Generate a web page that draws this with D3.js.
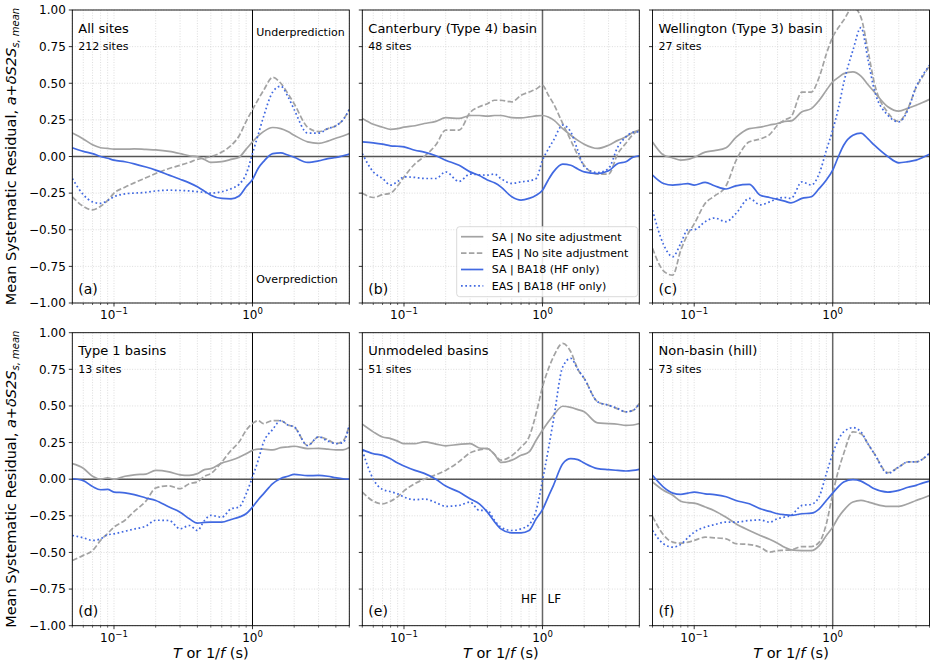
<!DOCTYPE html>
<html>
<head>
<meta charset="utf-8">
<script src="https://cdn.jsdelivr.net/npm/d3@7"></script>
<style>
  body { margin: 0; background: #fff; }
  svg { font-family: "DejaVu Sans", sans-serif; }
</style>
</head>
<body>
<svg id="chart" width="932" height="667"></svg>
<script>
// Oscillator period (s) at which every residual curve is sampled
const periods = [0.05, 0.06, 0.07, 0.08, 0.09, 0.1, 0.12, 0.14, 0.17, 0.2, 0.25, 0.3, 0.35, 0.4, 0.45, 0.5,
                 0.6, 0.7, 0.8, 0.9, 1.0, 1.1, 1.2, 1.4, 1.6, 1.8, 2.0, 2.5, 3.0, 3.5, 4.0, 4.5, 5.0];
const periodRange = [0.05, 5];
const residualRange = [-1, 1];
const residualTicks = [-1, -0.75, -0.5, -0.25, 0, 0.25, 0.5, 0.75, 1];

// (a) All sites
const allSA     = [0.16,0.12,0.08,0.06,0.055,0.05,0.05,0.052,0.048,0.045,0.035,0.02,0.005,-0.002,-0.02,-0.04,-0.035,-0.02,-0.005,0.05,0.1,0.14,0.17,0.198,0.19,0.17,0.145,0.1,0.09,0.105,0.125,0.14,0.157];
const allEAS    = [-0.275,-0.34,-0.365,-0.34,-0.3,-0.25,-0.21,-0.18,-0.145,-0.116,-0.082,-0.06,-0.04,-0.02,-0.01,0.0,0.03,0.075,0.14,0.24,0.32,0.39,0.45,0.54,0.5,0.43,0.36,0.2,0.17,0.19,0.21,0.25,0.32];
const allSABA   = [0.06,0.035,0.02,0.0,-0.012,-0.025,-0.036,-0.05,-0.072,-0.093,-0.127,-0.155,-0.18,-0.207,-0.237,-0.264,-0.286,-0.289,-0.27,-0.207,-0.157,-0.08,-0.035,0.02,0.025,0.01,-0.005,-0.04,-0.03,-0.015,-0.007,0.005,0.016];
const allEASBA  = [-0.15,-0.26,-0.31,-0.32,-0.3,-0.275,-0.255,-0.25,-0.245,-0.235,-0.23,-0.232,-0.235,-0.24,-0.245,-0.25,-0.24,-0.22,-0.19,-0.12,0.02,0.15,0.27,0.44,0.48,0.41,0.32,0.16,0.16,0.19,0.21,0.25,0.32];

// (b) Canterbury (Type 4) basin
const cantSA    = [0.26,0.22,0.2,0.185,0.19,0.2,0.21,0.225,0.24,0.265,0.26,0.28,0.28,0.275,0.28,0.28,0.266,0.264,0.27,0.277,0.28,0.27,0.25,0.19,0.145,0.11,0.084,0.055,0.077,0.11,0.134,0.165,0.18];
const cantEAS   = [-0.25,-0.28,-0.26,-0.25,-0.2,-0.14,-0.05,0.0,0.08,0.18,0.18,0.3,0.34,0.36,0.384,0.384,0.373,0.418,0.44,0.46,0.486,0.42,0.36,0.225,0.11,0.01,-0.06,-0.12,-0.12,0.02,0.09,0.15,0.18];
const cantSABA  = [0.1,0.093,0.084,0.073,0.07,0.066,0.043,0.03,0.005,-0.025,-0.06,-0.105,-0.13,-0.16,-0.18,-0.207,-0.275,-0.298,-0.286,-0.264,-0.23,-0.16,-0.105,-0.052,-0.06,-0.085,-0.105,-0.116,-0.098,-0.048,-0.036,-0.005,0.005];
const cantEASBA = [0.02,-0.105,-0.15,-0.195,-0.17,-0.139,-0.143,-0.15,-0.15,-0.105,-0.17,-0.12,-0.125,-0.127,-0.12,-0.15,-0.184,-0.173,-0.166,-0.15,-0.025,0.05,0.11,0.214,0.168,0.04,-0.07,-0.11,-0.082,0.066,0.134,0.165,0.168];

// (c) Wellington (Type 3) basin
const wellSA    = [0.1,0.01,-0.01,-0.025,-0.02,-0.005,0.03,0.04,0.06,0.13,0.19,0.2,0.215,0.225,0.24,0.243,0.305,0.327,0.384,0.452,0.51,0.54,0.566,0.577,0.548,0.49,0.44,0.34,0.31,0.33,0.35,0.37,0.39];
const wellEAS   = [-0.627,-0.78,-0.81,-0.64,-0.53,-0.46,-0.32,-0.27,-0.2,-0.03,0.1,0.12,0.15,0.214,0.25,0.27,0.44,0.44,0.543,0.7,0.816,0.88,0.93,1.02,0.95,0.72,0.5,0.3,0.24,0.33,0.47,0.55,0.62];
const wellSABA  = [-0.127,-0.184,-0.195,-0.19,-0.185,-0.195,-0.177,-0.2,-0.222,-0.2,-0.19,-0.264,-0.28,-0.293,-0.305,-0.316,-0.286,-0.275,-0.218,-0.16,-0.093,0.0,0.077,0.145,0.16,0.12,0.077,0.0,-0.043,-0.035,-0.025,-0.005,0.016];
const wellEASBA = [-0.366,-0.6,-0.684,-0.593,-0.5,-0.5,-0.445,-0.42,-0.445,-0.39,-0.286,-0.33,-0.31,-0.286,-0.28,-0.286,-0.173,-0.195,-0.116,0.043,0.18,0.33,0.5,0.725,0.88,0.66,0.452,0.282,0.236,0.32,0.475,0.56,0.623];

// (d) Type 1 basins
const t1SA      = [0.106,0.075,0.02,0.0,0.01,0.0,0.02,0.03,0.035,0.06,0.05,0.03,0.026,0.038,0.065,0.072,0.11,0.129,0.15,0.174,0.197,0.205,0.205,0.2,0.215,0.22,0.225,0.209,0.21,0.205,0.2,0.2,0.216];
const t1EAS     = [-0.555,-0.52,-0.487,-0.418,-0.37,-0.327,-0.28,-0.22,-0.15,-0.06,-0.045,-0.065,-0.03,-0.019,0.02,0.038,0.117,0.197,0.254,0.334,0.38,0.4,0.38,0.4,0.4,0.37,0.357,0.23,0.289,0.27,0.243,0.26,0.368];
const t1SABA    = [0.003,-0.01,-0.05,-0.072,-0.07,-0.088,-0.093,-0.105,-0.128,-0.145,-0.19,-0.225,-0.27,-0.3,-0.295,-0.293,-0.293,-0.275,-0.259,-0.236,-0.19,-0.14,-0.1,-0.03,0.005,0.02,0.033,0.024,0.026,0.02,0.01,0.003,0.0];
const t1EASBA   = [-0.384,-0.4,-0.418,-0.407,-0.38,-0.373,-0.355,-0.34,-0.32,-0.28,-0.282,-0.339,-0.316,-0.35,-0.282,-0.247,-0.259,-0.202,-0.19,-0.1,0.015,0.13,0.25,0.34,0.4,0.37,0.357,0.23,0.289,0.26,0.243,0.25,0.368];

// (e) Unmodeled basins
const unmSA     = [0.375,0.323,0.288,0.277,0.26,0.243,0.243,0.255,0.24,0.228,0.238,0.243,0.213,0.209,0.17,0.115,0.13,0.163,0.186,0.266,0.334,0.39,0.437,0.498,0.49,0.475,0.46,0.384,0.38,0.375,0.368,0.37,0.38];
const unmEAS    = [-0.088,-0.15,-0.168,-0.15,-0.12,-0.08,-0.03,0.0,0.03,0.06,0.12,0.18,0.2,0.209,0.17,0.13,0.16,0.22,0.289,0.448,0.63,0.75,0.836,0.927,0.87,0.75,0.688,0.528,0.505,0.48,0.46,0.47,0.516];
const unmSABA   = [0.202,0.174,0.163,0.14,0.11,0.09,0.06,0.04,0.0,-0.047,-0.088,-0.134,-0.168,-0.225,-0.29,-0.339,-0.366,-0.366,-0.35,-0.27,-0.208,-0.12,-0.042,0.106,0.14,0.134,0.11,0.072,0.065,0.06,0.056,0.06,0.067];
const unmEASBA  = [0.197,0.0,-0.07,-0.085,-0.1,-0.122,-0.14,-0.135,-0.16,-0.185,-0.179,-0.156,-0.213,-0.213,-0.28,-0.327,-0.35,-0.339,-0.31,-0.213,-0.008,0.2,0.403,0.767,0.825,0.75,0.688,0.528,0.505,0.482,0.46,0.47,0.516];

// (f) Non-basin (hill)
const hillSA    = [-0.019,-0.076,-0.11,-0.15,-0.16,-0.163,-0.19,-0.215,-0.26,-0.304,-0.35,-0.384,-0.41,-0.437,-0.465,-0.482,-0.487,-0.487,-0.453,-0.384,-0.327,-0.26,-0.213,-0.156,-0.145,-0.155,-0.168,-0.186,-0.186,-0.168,-0.145,-0.128,-0.111];
const hillEAS   = [-0.254,-0.38,-0.43,-0.437,-0.43,-0.418,-0.396,-0.4,-0.407,-0.44,-0.446,-0.464,-0.498,-0.487,-0.485,-0.482,-0.46,-0.46,-0.43,-0.304,-0.1,0.06,0.174,0.323,0.31,0.24,0.174,0.045,0.083,0.118,0.118,0.14,0.179];
const hillSABA  = [0.026,-0.054,-0.095,-0.104,-0.095,-0.088,-0.1,-0.105,-0.12,-0.145,-0.168,-0.202,-0.22,-0.236,-0.243,-0.247,-0.236,-0.232,-0.202,-0.145,-0.095,-0.05,-0.019,-0.003,-0.013,-0.04,-0.065,-0.088,-0.076,-0.055,-0.042,-0.025,-0.013];
const hillEASBA = [-0.35,-0.441,-0.464,-0.445,-0.4,-0.362,-0.327,-0.31,-0.293,-0.293,-0.282,-0.278,-0.293,-0.27,-0.258,-0.247,-0.179,-0.172,-0.117,0.038,0.174,0.27,0.323,0.352,0.323,0.24,0.174,0.04,0.083,0.118,0.118,0.14,0.179];

const panelTitles = ["All sites", "Canterbury (Type 4) basin", "Wellington (Type 3) basin",
                     "Type 1 basins", "Unmodeled basins", "Non-basin (hill)"];
const siteCounts  = [212, 48, 27, 13, 51, 73];
const panelLetters = ["(a)", "(b)", "(c)", "(d)", "(e)", "(f)"];
const panelSeries = [
  [allSA, allEAS, allSABA, allEASBA],
  [cantSA, cantEAS, cantSABA, cantEASBA],
  [wellSA, wellEAS, wellSABA, wellEASBA],
  [t1SA, t1EAS, t1SABA, t1EASBA],
  [unmSA, unmEAS, unmSABA, unmEASBA],
  [hillSA, hillEAS, hillSABA, hillEASBA]
];
const seriesNames = ["SA | No site adjustment", "EAS | No site adjustment", "SA | BA18 (HF only)", "EAS | BA18 (HF only)"];

const GRAY = "#a3a3a3", BLUE = "#4169e1";
const seriesStyle = [
  { color: GRAY, dash: null },
  { color: GRAY, dash: "5.5,2.4" },
  { color: BLUE, dash: null },
  { color: BLUE, dash: "1.7,2.6" }
];
const LW = 1.7;

const svg = d3.select("#chart");
const W = 277, H = 293;
const colX = [72.3, 362.3, 652.5];
const rowY = [10, 332.7];

const x = d3.scaleLog().domain(periodRange).range([0, W]);
const y = d3.scaleLinear().domain(residualRange).range([H, 0]);
const xTicks = x.ticks();
const isMajor = t => Math.abs(Math.log10(t) - Math.round(Math.log10(t))) < 1e-6;
const fmtY = v => v.toFixed(2).replace("-", "\u2212");

const line = d3.line()
  .x(d => x(d[0]))
  .y(d => y(d[1]))
  .curve(d3.curveMonotoneX);

panelSeries.forEach((series, i) => {
  const col = i % 3, row = Math.floor(i / 3);
  const g = svg.append("g").attr("transform", `translate(${colX[col]},${rowY[row]})`);

  g.append("clipPath").attr("id", "clip" + i)
    .append("rect").attr("width", W).attr("height", H);

  // grid: every log tick on x, quarter steps on y
  const grid = g.append("g").attr("stroke", "#cfcfcf").attr("stroke-width", 0.7).attr("stroke-dasharray", "1,1.6");
  grid.selectAll(".gx").data(xTicks).join("line")
    .attr("x1", d => x(d)).attr("x2", d => x(d)).attr("y1", 0).attr("y2", H);
  grid.selectAll(".gy").data(residualTicks).join("line")
    .attr("x1", 0).attr("x2", W).attr("y1", d => y(d)).attr("y2", d => y(d));

  // zero residual and the HF/LF crossover period
  const refColor = col === 0 ? "#000" : "#666";
  const refWidth = col === 0 ? 1.0 : 1.5;
  g.append("line").attr("x1", 0).attr("x2", W).attr("y1", y(0)).attr("y2", y(0))
    .attr("stroke", "#555").attr("stroke-width", 1.4);
  g.append("line").attr("x1", x(1)).attr("x2", x(1)).attr("y1", 0).attr("y2", H)
    .attr("stroke", refColor).attr("stroke-width", refWidth);

  // residual curves
  const curves = g.append("g").attr("clip-path", `url(#clip${i})`);
  series.forEach((vals, k) => {
    const pts = periods.map((p, j) => [p, vals[j]]);
    curves.append("path").datum(pts)
      .attr("d", line)
      .attr("fill", "none")
      .attr("stroke", seriesStyle[k].color)
      .attr("stroke-width", LW)
      .attr("stroke-dasharray", seriesStyle[k].dash);
  });

  // frame
  g.append("rect").attr("width", W).attr("height", H)
    .attr("fill", "none").attr("stroke", "#000").attr("stroke-width", 0.9);

  // y ticks
  g.selectAll(".ty").data(residualTicks).join("line")
    .attr("x1", -3.5).attr("x2", 0).attr("y1", d => y(d)).attr("y2", d => y(d))
    .attr("stroke", "#000").attr("stroke-width", 0.8);
  if (col === 0) {
    g.selectAll(".ly").data(residualTicks).join("text")
      .attr("x", -6.5).attr("y", d => y(d) + 4.3)
      .attr("text-anchor", "end").attr("font-size", 12).attr("fill", "#000")
      .text(fmtY);
  }

  // x ticks
  g.selectAll(".tx").data(xTicks).join("line")
    .attr("x1", d => x(d)).attr("x2", d => x(d))
    .attr("y1", H).attr("y2", d => H + (isMajor(d) ? 3.5 : 2))
    .attr("stroke", "#000").attr("stroke-width", d => isMajor(d) ? 0.8 : 0.6);
  const majors = xTicks.filter(isMajor);
  const lbl = g.selectAll(".lx").data(majors).join("text")
    .attr("x", d => x(d)).attr("y", H + 16)
    .attr("text-anchor", "middle").attr("font-size", 12).attr("fill", "#000");
  lbl.append("tspan").text("10");
  lbl.append("tspan").attr("dy", -5).attr("font-size", 8.5)
    .text(d => String(Math.round(Math.log10(d))).replace("-", "\u2212"));

  // panel annotations
  g.append("text").attr("x", 6).attr("y", 22.7).attr("font-size", 13).text(panelTitles[i]);
  g.append("text").attr("x", 6).attr("y", 40).attr("font-size", 11).text(siteCounts[i] + " sites");
  g.append("text").attr("x", 6).attr("y", 283.5).attr("font-size", 14).text(panelLetters[i]);

  if (i === 0) {
    g.append("text").attr("x", x(1) + 3.7).attr("y", 26.3).attr("font-size", 11).text("Underprediction");
    g.append("text").attr("x", x(1) + 3.7).attr("y", 272.5).attr("font-size", 11).text("Overprediction");
  }
  if (i === 4) {
    g.append("text").attr("x", x(1) - 5.5).attr("y", 270.6).attr("font-size", 12)
      .attr("text-anchor", "end").text("HF");
    g.append("text").attr("x", x(1) + 5).attr("y", 270.6).attr("font-size", 12).text("LF");
  }

  // legend
  if (i === 1) {
    const lg = g.append("g").attr("transform", "translate(94.4,216.7)");
    lg.append("rect").attr("width", 181).attr("height", 70).attr("rx", 3)
      .attr("fill", "#fff").attr("fill-opacity", 0.85).attr("stroke", "#d0d0d0").attr("stroke-width", 0.8);
    seriesNames.forEach((name, k) => {
      const yy = 10 + k * 16.4;
      lg.append("line").attr("x1", 4.3).attr("x2", 26.6).attr("y1", yy).attr("y2", yy)
        .attr("stroke", seriesStyle[k].color).attr("stroke-width", LW)
        .attr("stroke-dasharray", seriesStyle[k].dash);
      lg.append("text").attr("x", 35).attr("y", yy + 4).attr("font-size", 11).text(name);
    });
  }

  // x-axis title under the bottom row
  if (row === 1) {
    const xt = g.append("text").attr("x", W / 2).attr("y", H + 32)
      .attr("text-anchor", "middle").attr("font-size", 14.5);
    xt.append("tspan").attr("font-style", "italic").text("T");
    xt.append("tspan").text(" or 1/");
    xt.append("tspan").attr("font-style", "italic").text("f");
    xt.append("tspan").text(" (s)");
  }
});

// y-axis title, one per row
rowY.forEach(top => {
  const cy = top + H / 2;
  const t = svg.append("text")
    .attr("transform", `translate(16,${cy}) rotate(-90)`)
    .attr("text-anchor", "middle").attr("font-size", 14.5);
  t.append("tspan").text("Mean Systematic Residual, ");
  t.append("tspan").attr("font-style", "italic").text("a");
  t.append("tspan").text("+");
  t.append("tspan").attr("font-style", "italic").text("\u03b4S2S");
  t.append("tspan").attr("font-style", "italic").attr("font-size", 10).attr("dy", 3).text("s, mean");
});
</script>
</body>
</html>
